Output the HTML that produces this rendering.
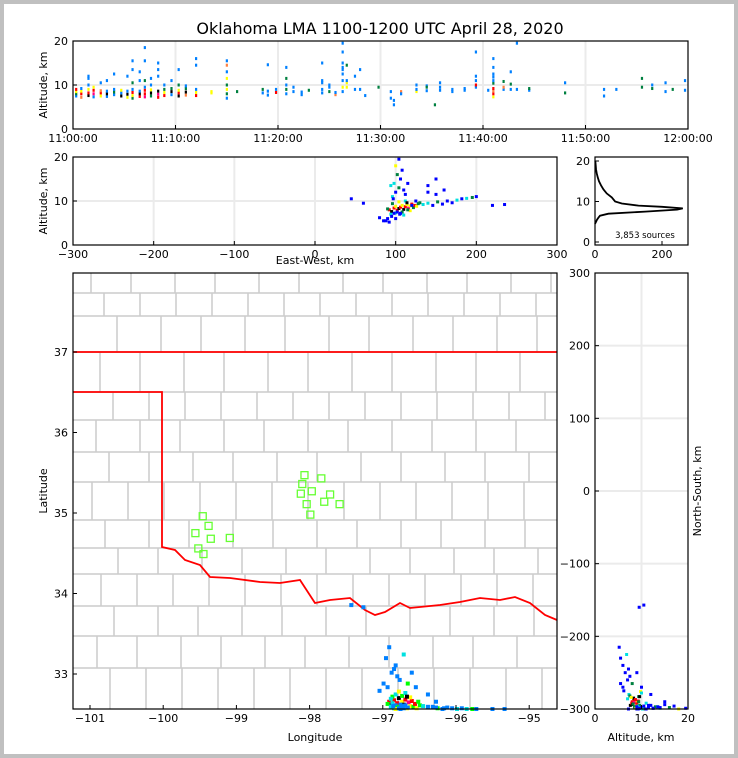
<!DOCTYPE html>
<html><head><meta charset="utf-8"><style>
html,body{margin:0;padding:0;background:#c0c0c0}
svg{display:block}
text{font-family:"DejaVu Sans","Liberation Sans",sans-serif;fill:#000}
</style></head><body>
<svg id="s" width="738" height="758" viewBox="0 0 738 758" xmlns="http://www.w3.org/2000/svg">
<rect x="0" y="0" width="738" height="758" fill="#c0c0c0"/>
<rect x="4" y="4" width="730" height="750" fill="#fff"/>
<text x="380" y="34" font-size="16" text-anchor="middle">Oklahoma LMA 1100-1200 UTC April 28, 2020</text>
<g id="grid"></g>
<g id="map"></g>
<g id="marks"></g>
<g id="axes"></g>
</svg>
<script>
// ---- top panel: time-height columns (minutes after 11:00, altitudes km, colours) ----
const topTimes=[0.3,0.8,1.5,2,2.7,3.3,4,4.7,5.3,5.8,6.5,7,7.6,8.3,8.9,9.6,10.3,11,12,13.5,15,16,18.5,19,19.8,20.8,21.5,22.3,23,24.3,25,25.6,26.3,26.7,27.5,28,28.5,29.8,31,31.3,32,33.5,34.5,35.3,35.8,37,38.2,39.3,40.5,41,42,42.7,43.3,44.5,48,51.8,53,55.5,56.5,57.8,58.5,59.7];
const topAlts=[[7.5,8,8.5,9],[7.2,8,8.6,9.2],[7.6,8.2,9,10,11.5,12],[7.3,8,8.8,9.5],[7.5,8.2,8.7,10.5],[7.4,8,8.6,11],[7.8,8.4,9,12.5],[7.5,8.2,8.8],[7.2,7.9,8.6,12],[7,7.6,8.3,9,10.5,13.5,15.5],[7.4,8,8.6,11,13],[7.3,8,8.8,9.5,11,15.5,18.5],[7.5,8.2,8.9,10,11.5],[7.2,7.9,8.6,12,13.5,15],[7.6,8.3,9,10],[7.8,8.5,9.2,11],[7.5,8.2,8.8,10,13.5],[7.7,8.4,9.2,9.8],[7.6,8.3,9,14.5,16],[8.2,8.5],[7,8,9,10,11.5,13,14.5,15.5],[8.5],[8.2,9],[7.7,8.6,14.6],[8.3,9],[8,9,10,11.5,14],[8.5,9.5],[7.8,8.4],[8.8],[8.2,9,10.5,11,15],[8.5,9.5,10],[7.8,8.3],[8.5,9.5,11,12.5,13.5,14,15,17.5,19.5],[9.5,10.5,11,14.5],[9,12],[9,13.5],[7.6],[9.5],[7,8.5],[5.5,6.5],[8.5,8],[8.5,10,9],[8.7,9.8,9.5],[5.5],[8.8,10.5,9.5],[8.5,9],[8.8,9.2],[9.5,10,11,12,17.5],[8.8],[7.3,8,8.6,9.2,10.4,11,11.8,12.5,14,16],[9,10.8,9.5],[9,10.2,13],[19.5,9],[8.8,9.2],[8.2,10.5],[7.5,9],[9],[9.5,11.5],[9.2,10],[8.5,10.5],[9],[8.8,11]];
const topCols=["bgyr","oryb","krybbb","bmry","yrob","bkbb","bgbb","kby","ykbb","gyrbgbb","rkbbb","mrrbgbb","gkybb","rmkbbb","rygb","bkgb","krygb","okgb","rybbb","yy","bgygybob","g","bg","bbb","rb","bgbgb","bb","bb","g","bbbbb","gbb","ob","bybbbbbbb","yybg","bb","bb","b","g","bb","bb","ob","ybb","bbg","g","bbb","bb","bb","brbbb","b","yrorgbbbbb","bgo","bgb","bb","bg","gb","bb","b","gg","gb","bb","g","bb"];
// ---- sources: east-west km, north-south km, altitude km, colour ----
const srcEW=[92,95,98,100,102,104,106,108,110,112,114,116,118,120,122,124,126,128,96,100,104,108,112,94,118,130,90,106,114,
96,100,104,98,106,102,108,110,94,112,100,104,115,97,
134,140,146,152,158,164,170,176,182,188,195,220,235,160,150,140,200,
90,85,80,95,100,88,105,92,110,98,102,115,120,125,60,140,150,45];
const srcNS=[-290,-295,-288,-296,-292,-285,-298,-290,-294,-287,-299,-291,-296,-289,-297,-293,-299,-290,-283,-280,-276,-282,-278,-286,-284,-295,-293,-300,-283,
-292,-295,-297,-299,-294,-298,-296,-299,-297,-295,-300,-299,-298,-296,
-296,-298,-297,-299,-300,-298,-299,-300,-299,-300,-300,-300,-300,-299,-298,-297,-300,
-270,-265,-275,-250,-240,-230,-260,-215,-225,-245,-255,-265,-250,-270,-160,-280,-290,-157];
const srcAlt=[8,7.6,8.4,8.8,7.9,8.3,8.6,9,8.1,8.7,9.2,8.4,8.9,9.3,8.5,9,8.8,9.4,9.4,7.3,9.8,7.5,10,7,7.8,9.6,8.2,7.2,9.6,
11,12,13,14,15,16,17,12.5,13.5,11.5,18,19.5,14,10.5,
9.2,9.5,9,9.8,9.3,10,9.6,10.2,10.5,10.6,10.8,9,9.2,12.5,11.5,13.5,11,
6,5.5,6.2,6.5,6,5.5,7,5.2,6.8,7.2,7.5,8,9,10,9.5,12,15,10.5];
const srcCol="rkryrkrykrymyrgryggcygccyggbkcbgcbgbbcbybbbccbgbbbcbcgbbbbbbbbbbbbbbcbbgbbbbbbbbb";
// ---- altitude histogram ----
const histAlt=[4.5,5,5.5,6,6.5,7,7.5,8,8.3,8.7,9,9.5,10,11,12,13,14,15,16,17,18,19,20];
const histCount=[0,3,6,10,15,40,150,245,262,200,130,80,60,50,35,25,18,12,8,5,3,2,1];
// ---- radar stations (lon, lat) ----
const staLon=[-98.07,-97.84,-98.1,-97.97,-98.12,-97.72,-98.04,-97.8,-97.99,-97.59,-99.46,-99.38,-99.56,-99.35,-99.09,-99.52,-99.45];
const staLat=[35.47,35.43,35.36,35.27,35.24,35.23,35.11,35.14,34.98,35.11,34.96,34.84,34.75,34.68,34.69,34.56,34.49];

const NS="http://www.w3.org/2000/svg";
const palette={b:"#0080ff",g:"#008040",y:"#ffff00",r:"#ff0000",o:"#ff8040",k:"#000000",m:"#ff0080",c:"#00e0e0"};
function mk(tag,attrs,parent){const e=document.createElementNS(NS,tag);for(const k in attrs)e.setAttribute(k,attrs[k]);document.getElementById(parent).appendChild(e);return e;}

const P={top:{x0:73,x1:688,y0:41,y1:129},mid:{x0:73,x1:557,y0:157,y1:245},hist:{x0:595,x1:688,y0:157,y1:245},map:{x0:73,x1:557,y0:273,y1:709},ns:{x0:595,x1:688,y0:273,y1:709}};
const tX=t=>73+t*615/60, tY=a=>129-a*88/20;
const ewX=e=>73+(e+300)*484/600, mAY=a=>245-a*88/20;
const hX=c=>595+c*0.335, hY=a=>242-a*4.05;
const lonX=l=>90+(l+101)*73.2, latY=l=>352+(37-l)*80.5;
const nsY=n=>709-(n+300)*436/600, nAX=a=>595+a*93/20;

for(let m=10;m<60;m+=10){const g=mk('line',{x1:tX(m),x2:tX(m),y1:41,y2:129,stroke:'#ebebeb','stroke-width':2},'grid');}
mk('line',{x1:73,x2:688,y1:tY(10),y2:tY(10),stroke:'#ebebeb','stroke-width':2},'grid');
for(let e=-200;e<=200;e+=100){mk('line',{x1:ewX(e),x2:ewX(e),y1:157,y2:245,stroke:'#ebebeb','stroke-width':2},'grid');}
mk('line',{x1:73,x2:557,y1:mAY(10),y2:mAY(10),stroke:'#ebebeb','stroke-width':2},'grid');
for(let n=-200;n<=200;n+=100){mk('line',{x1:595,x2:688,y1:nsY(n),y2:nsY(n),stroke:'#ebebeb','stroke-width':2},'grid');}
mk('line',{x1:nAX(10),x2:nAX(10),y1:273,y2:709,stroke:'#ebebeb','stroke-width':2},'grid');

const rowsY=[273,293,316,352,392,420,452,482,520,548,574,606,636,668,709];
let d='';
for(let i=1;i<rowsY.length-1;i++){d+=`M73 ${rowsY[i]}H557`;}
for(let i=0;i<rowsY.length-1;i++){const off=(i*13)%30;for(let x=73+off+18;x<557;x+=36+((i+x)%3)*4){d+=`M${x} ${rowsY[i]}V${rowsY[i+1]}`;}}
const cl=mk('path',{d:d,stroke:'#cccccc','stroke-width':1.5,fill:'none'},'map');

const st=mk('path',{d:'M73 352H557M73 392H162V547L175 550L185 560L200 565L210 577L230 578L260 582L280 583L300 580L315 603L330 600L350 598L365 610L375 615L385 612L400 603L410 608L420 607L440 605L460 602L480 598L500 600L515 597L530 603L545 615L557 620',stroke:'#ff0000','stroke-width':1.8,fill:'none'},'map');

for(let i=0;i<staLon.length;i++){const r=mk('rect',{x:lonX(staLon[i])-3.5,y:latY(staLat[i])-3.5,width:7,height:7,fill:'none',stroke:'#66ff33','stroke-width':1.3},'map');

}

for(let i=0;i<topTimes.length;i++){for(let j=0;j<topAlts[i].length;j++){const c=palette[topCols[i][j]||'b']||'#0080ff';
const r=mk('rect',{x:tX(topTimes[i])-1,y:tY(topAlts[i][j])-1.5,width:2.2,height:3,fill:c},'marks');

}}

for(let i=0;i<srcEW.length;i++){const c=palette[srcCol[i]]||'#0000ff';const cc=(c=='#0080ff')?'#0000ff':c;
const a=mk('rect',{x:ewX(srcEW[i])-1.5,y:mAY(srcAlt[i])-1.5,width:3,height:3,fill:cc},'marks');


const mc=(c=='#008040')?'#00ff00':c;
const b=mk('rect',{x:ewX(srcEW[i])-2,y:nsY(srcNS[i])-2,width:4,height:4,fill:mc},'marks');


const e=mk('rect',{x:nAX(srcAlt[i])-1.5,y:nsY(srcNS[i])-1.5,width:3,height:3,fill:cc},'marks');

}

let hp='';for(let i=0;i<histAlt.length;i++){hp+=(i?'L':'M')+hX(histCount[i]).toFixed(1)+' '+hY(histAlt[i]).toFixed(1);}
const hl=mk('path',{d:hp,stroke:'#000','stroke-width':1.8,fill:'none'},'marks');


for(const k in P){const p=P[k];const f=mk('rect',{x:p.x0,y:p.y0,width:p.x1-p.x0,height:p.y1-p.y0,fill:'none',stroke:'#000','stroke-width':1.2},'axes');

}
function tick(x1,y1,x2,y2){mk('line',{x1,y1,x2,y2,stroke:'#000','stroke-width':1},'axes');}
function lbl(x,y,s,anchor,size,name){const t=mk('text',{x,y,'font-size':size||11,'text-anchor':anchor||'middle'},'axes');t.textContent=s;

return t;}
const topTicks=['11:00:00','11:10:00','11:20:00','11:30:00','11:40:00','11:50:00','12:00:00'];
topTicks.forEach((s,i)=>{const x=tX(i*10);tick(x,129,x,125);lbl(x,142,s);});
[0,10,20].forEach(a=>{tick(73,tY(a),77,tY(a));lbl(68,tY(a)+4,a,'end');});
[-300,-200,-100,0,100,200,300].forEach(e=>{tick(ewX(e),245,ewX(e),241);lbl(ewX(e),258,(e<0?'\u2212'+(-e):e));});
[0,10,20].forEach(a=>{tick(73,mAY(a),77,mAY(a));lbl(68,mAY(a)+4,a,'end');});
[0,10,20].forEach(a=>{tick(595,hY(a),599,hY(a));lbl(590,hY(a)+4,a,'end');});
[0,200].forEach(c=>{tick(hX(c),245,hX(c),241);lbl(hX(c),258,c);});
lbl(645,238,'3,853 sources','middle',8.5,'source-count-label');
[-101,-100,-99,-98,-97,-96,-95].forEach(l=>{tick(lonX(l),709,lonX(l),705);lbl(lonX(l),722,'\u2212'+(-l));});
[37,36,35,34,33].forEach(l=>{tick(73,latY(l),77,latY(l));lbl(68,latY(l)+4,l,'end');});
[300,200,100,0,-100,-200,-300].forEach(n=>{tick(595,nsY(n),599,nsY(n));lbl(590,nsY(n)+4,(n<0?'\u2212'+(-n):n),'end');});
[0,10,20].forEach(a=>{tick(nAX(a),709,nAX(a),705);lbl(nAX(a),722,a);});
lbl(315,264,'East-West, km','middle',11,'x-axis-title-ew');
lbl(315,741,'Longitude','middle',11,'x-axis-title-longitude');
lbl(641,741,'Altitude, km','middle',11,'x-axis-title-altitude');
lbl(47,85,'Altitude, km','middle',11,'y-axis-title-top').setAttribute('transform','rotate(-90 47 85)');
lbl(47,201,'Altitude, km','middle',11,'y-axis-title-mid').setAttribute('transform','rotate(-90 47 201)');
lbl(47,491,'Latitude','middle',11,'y-axis-title-latitude').setAttribute('transform','rotate(-90 47 491)');
lbl(701,491,'North-South, km','middle',11,'y-axis-title-ns').setAttribute('transform','rotate(-90 701 491)');
</script>
</body></html>
